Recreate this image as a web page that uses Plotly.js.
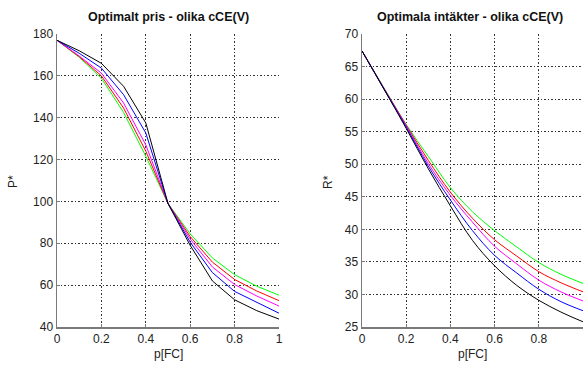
<!DOCTYPE html>
<html>
<head>
<meta charset="utf-8">
<script src="https://cdn.plot.ly/plotly-3.0.1.min.js"></script>
<style>html,body{margin:0;padding:0;background:#fff;}#chart{width:584px;height:365px;}</style>
</head>
<body>
<div id="chart"></div>
<script>
// x values: p[FC]
const pFC = [0, 0.1, 0.2, 0.3, 0.4, 0.5, 0.6, 0.7, 0.8, 0.9, 1.0];

// Optimal price P* for different cCE(V)
const priceGreen   = [177, 168.9, 158.9, 142.5, 121.6, 99, 84.5, 73.0, 65.0, 59.5, 55.2];
const priceRed     = [177, 169.2, 160.0, 144.6, 124.0, 99, 83.2, 71.0, 62.7, 57.2, 52.6];
const priceMagenta = [177, 169.5, 161.3, 147.0, 127.0, 99, 82.0, 68.7, 60.3, 54.8, 50.0];
const priceBlue    = [177, 170.8, 163.7, 151.0, 132.7, 99, 80.5, 66.0, 57.0, 51.7, 46.6];
const priceBlack   = [177, 172.0, 166.0, 155.0, 137.5, 99, 79.0, 62.0, 53.0, 47.8, 43.8];

// Optimal revenue R* for different cCE(V)
const revGreen   = [67.4, 61.7, 56.1, 51.2, 46.4, 42.7, 39.8, 37.3, 34.9, 33.1, 31.7];
const revRed     = [67.4, 61.6, 56.0, 50.6, 45.7, 41.7, 38.4, 35.9, 33.5, 31.8, 30.4];
const revMagenta = [67.4, 61.6, 55.9, 50.1, 45.2, 41.1, 37.4, 34.7, 32.2, 30.4, 29.0];
const revBlue    = [67.4, 61.5, 55.7, 49.7, 44.5, 39.8, 36.0, 33.3, 30.8, 28.9, 27.5];
const revBlack   = [67.4, 61.5, 55.5, 49.3, 43.6, 38.3, 34.4, 31.4, 29.1, 27.3, 25.8];

const xTicks = [0, 0.2, 0.4, 0.6, 0.8, 1];
const xTickText = ['0', '0.2', '0.4', '0.6', '0.8', '1'];
const priceTicks = [40, 60, 80, 100, 120, 140, 160, 180];
const revTicks = [25, 30, 35, 40, 45, 50, 55, 60, 65, 70];

const colors = ['#00ff00', '#ff0000', '#ff00ff', '#0000ff', '#000000'];
const priceSeries = [priceGreen, priceRed, priceMagenta, priceBlue, priceBlack];
const revSeries = [revGreen, revRed, revMagenta, revBlue, revBlack];

const traces = [];
priceSeries.forEach((ys, i) => traces.push({
  x: pFC, y: ys, type: 'scatter', mode: 'lines', xaxis: 'x', yaxis: 'y',
  line: {color: colors[i], width: 1}, showlegend: false, hoverinfo: 'skip'
}));
revSeries.forEach((ys, i) => traces.push({
  x: pFC, y: ys, type: 'scatter', mode: 'lines', xaxis: 'x2', yaxis: 'y2',
  line: {color: colors[i], width: 1, shape: 'spline', smoothing: 1}, showlegend: false, hoverinfo: 'skip'
}));

const W = 584, H = 365;
const mt = 34, mb = 38;
const plotH = H - mt - mb;
const d1 = [57 / W, 279 / W];
const d2 = [362 / W, 583 / W];

const axFont = {family: 'Liberation Sans, Arial, sans-serif', size: 12, color: '#222'};
function xax(domain, anchor) {
  return {
    domain: domain, anchor: anchor, range: [0, 1], tickvals: xTicks, ticktext: xTickText,
    showline: true, linecolor: '#7a7a7a', linewidth: 1.5, ticks: 'inside', ticklen: 3, tickcolor: '#7a7a7a',
    showgrid: true, gridcolor: '#333', griddash: '1.5px,2px', gridwidth: 1, zeroline: false,
    tickfont: axFont, fixedrange: true
  };
}
function yax(range, ticks, anchor) {
  return {
    domain: [0, 1], anchor: anchor, range: range, tickvals: ticks,
    showline: true, linecolor: '#7a7a7a', linewidth: 1.5, ticks: 'inside', ticklen: 3, tickcolor: '#7a7a7a',
    showgrid: true, gridcolor: '#333', griddash: '1.5px,2px', gridwidth: 1, zeroline: false,
    tickfont: axFont, fixedrange: true
  };
}

const pxY = py => 1 - (py - mt) / plotH;
const titleFont = {family: 'Liberation Sans, Arial, sans-serif', size: 12.5, color: '#111'};
const annotations = [
  {text: '<b>Optimalt pris - olika cCE(V)</b>', xref: 'paper', yref: 'paper', x: (d1[0] + d1[1]) / 2, y: pxY(17), showarrow: false, font: titleFont, xanchor: 'center', yanchor: 'middle'},
  {text: '<b>Optimala intäkter - olika cCE(V)</b>', xref: 'paper', yref: 'paper', x: (d2[0] + d2[1]) / 2 - 0.005, y: pxY(17), showarrow: false, font: titleFont, xanchor: 'center', yanchor: 'middle'},
  {text: 'p[FC]', xref: 'paper', yref: 'paper', x: (d1[0] + d1[1]) / 2, y: pxY(354), showarrow: false, font: axFont, xanchor: 'center', yanchor: 'middle'},
  {text: 'p[FC]', xref: 'paper', yref: 'paper', x: (d2[0] + d2[1]) / 2, y: pxY(354), showarrow: false, font: axFont, xanchor: 'center', yanchor: 'middle'},
  {text: 'P*', xref: 'paper', yref: 'paper', x: 13 / W, y: pxY(182), showarrow: false, font: axFont, textangle: -90, xanchor: 'center', yanchor: 'middle'},
  {text: 'R*', xref: 'paper', yref: 'paper', x: 328 / W, y: pxY(182), showarrow: false, font: axFont, textangle: -90, xanchor: 'center', yanchor: 'middle'}
];

const layout = {
  width: W, height: H,
  margin: {l: 0, r: 0, t: mt, b: mb, pad: 0},
  paper_bgcolor: '#fff', plot_bgcolor: '#fff',
  showlegend: false,
  xaxis: xax(d1, 'y'),
  yaxis: yax([40, 180], priceTicks, 'x'),
  xaxis2: xax(d2, 'y2'),
  yaxis2: yax([25, 70], revTicks, 'x2'),
  annotations: annotations
};

Plotly.newPlot('chart', traces, layout, {staticPlot: true, displayModeBar: false});
</script>
</body>
</html>
